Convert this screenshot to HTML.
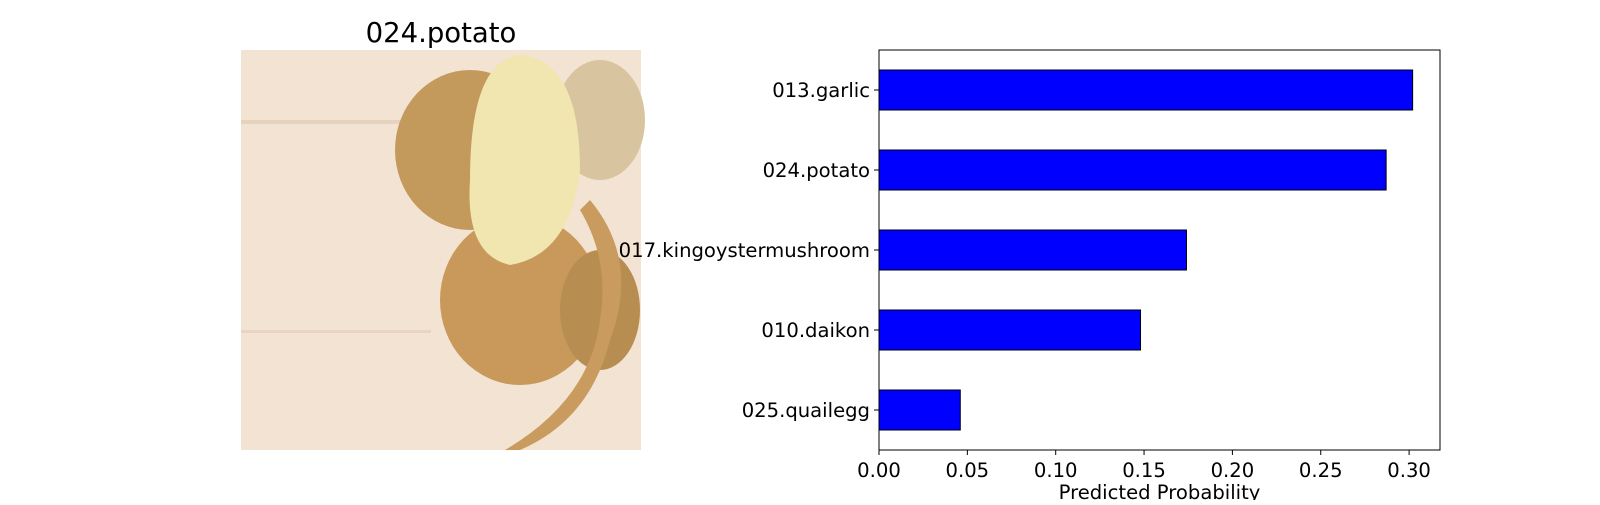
<!DOCTYPE html>
<html><head><meta charset="utf-8"><style>
body{margin:0;background:#fff;}
svg text{font-family:"DejaVu Sans","Liberation Sans",sans-serif;}
</style></head><body>
<svg width="1600" height="500">
<text x="441" y="42" font-size="27.5" text-anchor="middle">024.potato</text>
<g>
<rect x="241" y="50" width="400" height="400" fill="#f3e3d2"/>
<rect x="241" y="120" width="200" height="4" fill="#e6d2bd"/>
<rect x="241" y="330" width="190" height="3" fill="#e8d4c0"/>
<ellipse cx="470" cy="150" rx="75" ry="80" fill="#c49a5c"/>
<ellipse cx="600" cy="120" rx="45" ry="60" fill="#d9c4a0"/>
<ellipse cx="520" cy="300" rx="80" ry="85" fill="#c8995a"/>
<ellipse cx="600" cy="310" rx="40" ry="60" fill="#b88d52"/>
<path d="M470 180 Q470 60 520 55 Q580 60 580 170 Q570 255 510 265 Q465 255 470 180Z" fill="#f1e6b0"/>
<path d="M590 200 Q640 260 610 340 Q590 420 520 450 L505 450 Q590 400 600 320 Q610 260 580 210Z" fill="#c99b5e"/>
</g>
<g id="chart"></g>
</svg>
<script>
const categories=["013.garlic","024.potato","017.kingoystermushroom","010.daikon","025.quailegg"];
const probabilities=[0.302,0.287,0.174,0.148,0.046];
const tickValues=[0,0.05,0.10,0.15,0.20,0.25,0.30];
const tickLabels=["0.00","0.05","0.10","0.15","0.20","0.25","0.30"];
const L=879,R=1440,T=50,B=450,XMAX=(R-L)/1767;
const x=v=>L+v/XMAX*(R-L);
const y=i=>T+(i+0.5)*(B-T)/categories.length;
const NS="http://www.w3.org/2000/svg",g=document.getElementById('chart');
function mk(t,a,txt){const e=document.createElementNS(NS,t);for(const k in a)e.setAttribute(k,a[k]);if(txt!==undefined)e.textContent=txt;g.appendChild(e);return e;}
const bh=(B-T)/categories.length*0.5;
const FS=19.6;
categories.forEach((c,i)=>{
 const b=mk('rect',{x:L,y:y(i)-bh/2,width:x(probabilities[i])-L,height:bh,fill:'#0000ff',stroke:'#000','stroke-width':1});
 
 
 const tk=mk('line',{x1:L-5,x2:L,y1:y(i),y2:y(i),stroke:'#000'});
 
 
 const t=mk('text',{x:L-9,y:y(i)+7,'font-size':FS,'text-anchor':'end'},c);
 
 
});
tickValues.forEach((v,i)=>{
 const tk=mk('line',{x1:x(v),x2:x(v),y1:B,y2:B+5,stroke:'#000'});
 
 
 const t=mk('text',{x:x(v),y:B+27,'font-size':FS,'text-anchor':'middle'},tickLabels[i]);
 
 
});
const f=mk('rect',{x:L,y:T,width:R-L,height:B-T,fill:'none',stroke:'#000','stroke-width':1});


const xt=mk('text',{x:(L+R)/2,y:B+49,'font-size':FS,'text-anchor':'middle'},'Predicted Probability');


</script>
</body></html>
